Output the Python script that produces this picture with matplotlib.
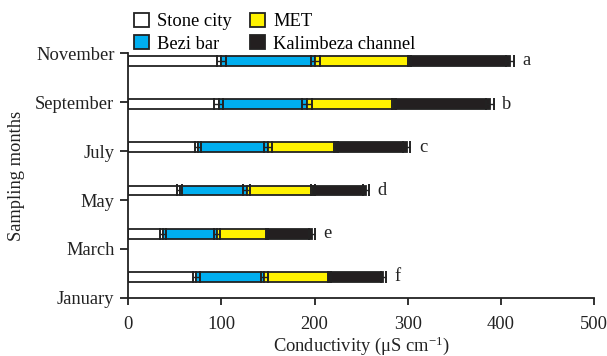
import numpy as np
import matplotlib
matplotlib.use('Agg')
import matplotlib.pyplot as plt
from matplotlib.patches import Patch

plt.rcParams['font.family'] = 'serif'
plt.rcParams['font.serif'] = ['Liberation Serif', 'DejaVu Serif']
plt.rcParams['mathtext.fontset'] = 'stix'

months = ['January', 'March', 'May', 'July', 'September', 'November']
letters = ['f', 'e', 'd', 'c', 'b', 'a']
sites = ['Stone city', 'Bezi bar', 'MET', 'Kalimbeza channel']

# conductivity per site, months in order Jan..Nov
stone = [73, 37, 55, 75, 97, 100]
bezi = [73, 58, 72, 75, 95, 101]
met = [70, 54, 71.5, 73, 93.5, 101]
kalimbeza = [58, 48, 57, 76, 103, 108]

stone_err = [4, 3, 3, 3.5, 5, 5]
bezi_err = [4, 3, 4, 4.5, 5.5, 5]
met_err = [2, 1.5, 2.5, 2, 2, 2]
kalimbeza_err = [3, 3, 3.5, 4, 4, 4]

colors = ['white', '#00AEEF', '#FFF200', '#231F20']
fs = 13.3

fig = plt.figure(figsize=(6.07, 3.56), dpi=100)
ax = fig.add_axes([0.2114, 0.163, 0.767, 0.688])

# bars sit slightly off the month ticks, as in the original figure
ypos = 0.43 + 0.882 * np.arange(len(months))
h = 0.2

left = np.zeros(len(months))
series = [stone, bezi, met, kalimbeza]
errs = [stone_err, bezi_err, met_err, kalimbeza_err]
for vals, err, col, name in zip(series, errs, colors, sites):
    vals = np.array(vals)
    ax.barh(ypos, vals, height=h, left=left, color=col, edgecolor='#222222',
            linewidth=1.3, zorder=2)
    left = left + vals
    ax.errorbar(left, ypos, xerr=err, fmt='none', ecolor='#222222',
                elinewidth=1, capsize=4.4, capthick=1.4, zorder=3)

for x, y, e, lab in zip(left, ypos, kalimbeza_err, letters):
    ax.annotate(lab, xy=(x + e, y), xytext=(6, 0), textcoords='offset points',
                ha='left', va='center', fontsize=fs, color='#222222')

ax.set_xlim(0, 500)
ax.set_ylim(0, 5)
ax.set_yticks(np.arange(len(months)))
ax.set_yticklabels(months)
ax.set_xticks([0, 100, 200, 300, 400, 500])

ax.spines['top'].set_visible(False)
ax.spines['right'].set_visible(False)
for s in ['left', 'bottom']:
    ax.spines[s].set_linewidth(1.3)
    ax.spines[s].set_color('#222222')
ax.tick_params(axis='y', direction='out', length=6, width=1.3, pad=4,
               labelsize=fs, colors='#222222')
ax.tick_params(axis='x', direction='out', length=5, width=1.3, pad=8,
               labelsize=fs, colors='#222222')

ax.set_xlabel(r'Conductivity ($\mathregular{\mu}$S cm$^{\mathregular{-1}}$)',
              fontsize=fs, labelpad=1, color='#222222')
ax.set_ylabel('Sampling months', fontsize=fs, labelpad=7, color='#222222')

handles = [Patch(facecolor=c, edgecolor='#222222', linewidth=1.3) for c in colors]
fig.legend(handles, sites, ncol=2, loc='upper left',
           bbox_to_anchor=(0.196, 1.006), frameon=False, fontsize=fs,
           handlelength=0.8, handleheight=0.8, handletextpad=0.45,
           columnspacing=1.0, labelspacing=0.28, borderpad=0.3)

plt.savefig('out.png', dpi=100)
